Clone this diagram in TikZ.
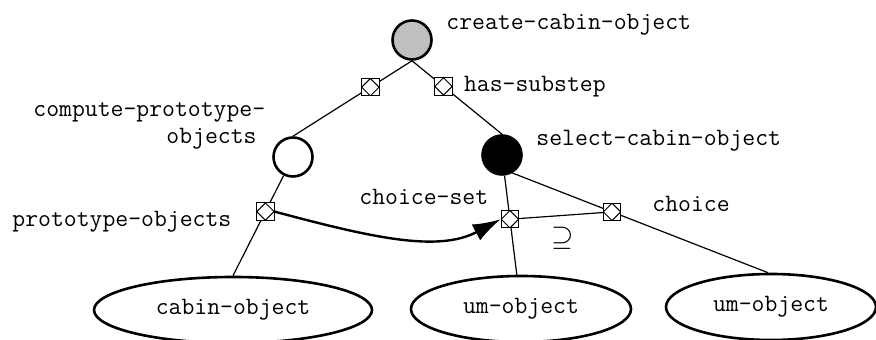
\documentclass[tikz,border=0pt]{standalone}
\usepackage{fontspec}
\usetikzlibrary{shapes.geometric,arrows.meta,positioning}

\begin{document}
\begin{tikzpicture}[
  x=0.5pt, y=0.5pt,
  lbl/.style={inner sep=0pt, font=\ttfamily\fontsize{12.5}{14}\selectfont},
  proc/.style={circle, draw, line width=1.3pt, minimum size=19.5pt, inner sep=0pt},
  obj/.style={ellipse, draw, line width=1.3pt, minimum height=33pt, inner sep=0pt, font=\ttfamily\fontsize{12.5}{14}\selectfont},
  rel/.style={rectangle, draw, fill=white, line width=0.5pt, minimum size=8.7pt, inner sep=0pt,
    path picture={\draw[line width=0.5pt] (path picture bounding box.north) -- (path picture bounding box.east)
      -- (path picture bounding box.south) -- (path picture bounding box.west) -- cycle;}},
  link/.style={line width=0.6pt},
  arr/.style={-{Latex[length=14pt,width=9pt]}, line width=1.2pt}
]
\useasboundingbox (0,0) rectangle (876,340);

% process steps
\node[proc, fill=black!25] (create) at (412,300) {};
\node[proc] (compute) at (293,183) {};
\node[proc, fill=black] (select) at (502,185) {};

% objects
\node[obj, minimum width=139pt] (cabin) at (233,30) {cabin-object};
\node[obj, minimum width=110pt] (umA) at (521,31) {um-object};
\node[obj, minimum width=105pt] (umB) at (771,33) {um-object};

% relations
\draw[link] (create.south) -- node[rel, pos=.35] (substepL) {} (compute.north);
\draw[link] (create.south) -- node[rel, pos=.35] (substepR) {} (select.north);
\draw[link] (compute) -- node[rel, pos=.36] (protoSet) {} (cabin.north);
\draw[link] (select) -- node[rel, pos=.44] (choiceSet) {} (umA.97);
\draw[link] (select.300) -- node[rel, pos=.39] (choice) {} (umB.95);
\draw[link] (choiceSet) -- (choice);
\node[font=\fontsize{14}{14}\selectfont, inner sep=0pt] (supset) at (563,102) {$\supseteq$};

\draw[arr] (protoSet.east) to[out=-15, in=208, out looseness=1.15, in looseness=0.8] (choiceSet.west);

% labels
\node[lbl, anchor=base west] (createLbl) at (446,310) {create-cabin-object};
\node[lbl, right=5.5pt of substepR] (substepLbl) {has-substep};
\node[lbl, anchor=base west] (selectLbl) at (536,194) {select-cabin-object};
\node[lbl, anchor=base west] (choiceLbl) at (652,128) {choice};
\node[lbl, anchor=base west] (choiceSetLbl) at (359,135) {choice-set};
\node[lbl, anchor=base west] (computeLbl) at (33,223) {compute-prototype-};
\node[lbl, anchor=base east] (computeLblB) at (257,196) {objects};
\node[lbl, anchor=base west] (protoLbl) at (12,113) {prototype-objects};

\end{tikzpicture}
\end{document}
